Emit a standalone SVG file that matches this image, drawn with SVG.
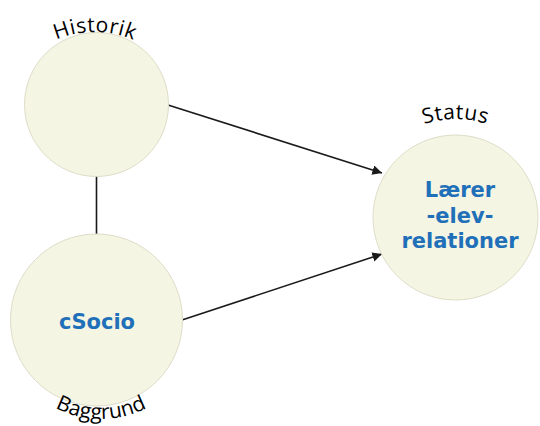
<svg xmlns="http://www.w3.org/2000/svg" width="540" height="426" viewBox="0 0 540 426">
<style>
.node{fill:#f5f5e4;stroke:#deddc8;stroke-width:1}
.lbl{font-family:"Open Sans","Liberation Sans",sans-serif;font-size:21px;fill:#000;text-anchor:middle}
.in{font-family:"DejaVu Sans","Liberation Sans",sans-serif;font-weight:bold;font-size:21px;fill:#1f70b8;text-anchor:middle}
.con{stroke:#1a1a1a;stroke-width:1.6;fill:none}
</style>
<defs>
<marker id="ah" viewBox="0 0 10 10" refX="10" refY="5" markerWidth="6" markerHeight="6" orient="auto" markerUnits="strokeWidth">
<path d="M0,0 L10,5 L0,10 z" fill="#1a1a1a"/>
</marker>
<path id="arcH" d="M -5 132 A 100 100 0 0 1 195 132"/>
<path id="arcS" d="M 355.5 219 A 100 100 0 0 1 555.5 219"/>
<path id="arcB" d="M 1 319 A 100 100 0 0 0 201 319"/>
</defs>
<rect width="540" height="426" fill="#fff"/>
<g id="connectors">
<line class="con" x1="96.5" y1="176" x2="96.5" y2="235"/>
<line class="con" x1="168" y1="105" x2="382" y2="173" marker-end="url(#ah)"/>
<line class="con" x1="182" y1="320" x2="382" y2="254" marker-end="url(#ah)"/>
</g>
<g id="historik">
<circle class="node" cx="96.5" cy="104.5" r="72"/>
<text class="lbl" letter-spacing="0.5"><textPath href="#arcH" startOffset="50%">Historik</textPath></text>
</g>
<g id="baggrund">
<circle class="node" cx="96.5" cy="320" r="86"/>
<text class="in" x="97" y="329" font-size="22">cSocio</text>
<text class="lbl" font-size="20"><textPath href="#arcB" startOffset="50%">Baggrund</textPath></text>
</g>
<g id="status">
<circle class="node" cx="455.5" cy="217.5" r="82.5"/>
<text class="in" x="460" y="197">Lærer</text>
<text class="in" x="460" y="223">-elev-</text>
<text class="in" x="460" y="248">relationer</text>
<text class="lbl" letter-spacing="0.5"><textPath href="#arcS" startOffset="50%">Status</textPath></text>
</g>
</svg>
